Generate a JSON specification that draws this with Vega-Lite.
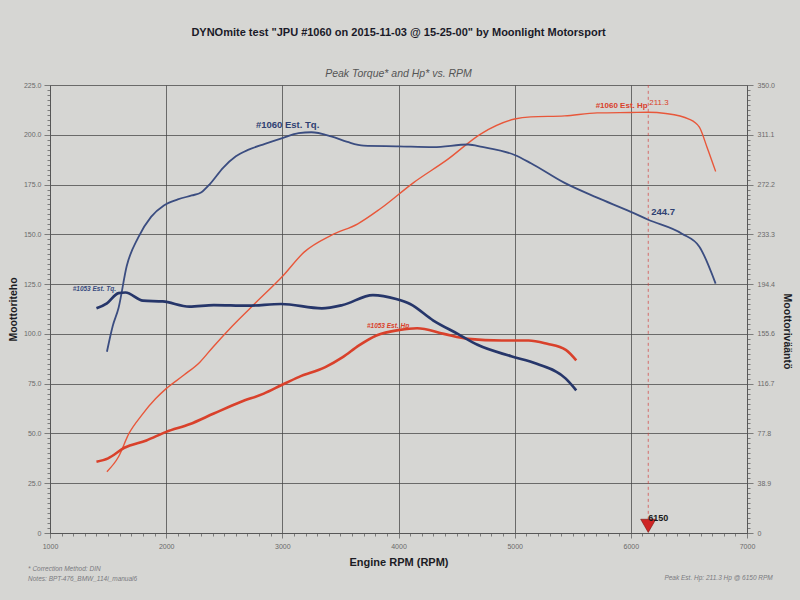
{
  "$schema": "https://vega.github.io/schema/vega-lite/v6.json",
  "width": 697,
  "height": 448,
  "autosize": "none",
  "padding": {"left": 50, "top": 85, "right": 53, "bottom": 67},
  "background": "#d6d6d3",
  "config": {
    "view": {"stroke": null},
    "font": "Liberation Sans",
    "axis": {
      "labelFont": "Liberation Sans",
      "labelFontSize": 7,
      "labelColor": "#6a6a6a",
      "domainColor": "#555555",
      "domainWidth": 0.9,
      "tickColor": "#555555",
      "tickWidth": 0.7,
      "gridColor": "#454545",
      "gridWidth": 0.75,
      "titleFont": "Liberation Sans",
      "titleFontWeight": "bold",
      "titleColor": "#1c1c24",
      "labelOverlap": false,
      "labelFlush": false,
      "labelBound": false
    }
  },
  "title": {
    "text": "DYNOmite test \"JPU #1060 on 2015-11-03 @ 15-25-00\" by Moonlight Motorsport",
    "subtitle": "Peak Torque* and Hp* vs. RPM",
    "anchor": "middle",
    "font": "Liberation Sans",
    "fontSize": 11,
    "fontWeight": "bold",
    "color": "#1a1a28",
    "subtitleFont": "Liberation Sans",
    "subtitleFontStyle": "italic",
    "subtitleFontSize": 10.5,
    "subtitleColor": "#555555",
    "subtitlePadding": 31,
    "offset": 2
  },
  "datasets": {
    "power": [
      {"series": "#1060 Est. Hp", "rpm": 1490, "hp": 30.8},
      {"series": "#1060 Est. Hp", "rpm": 1590, "hp": 38.3},
      {"series": "#1060 Est. Hp", "rpm": 1680, "hp": 50},
      {"series": "#1060 Est. Hp", "rpm": 1790, "hp": 59.2},
      {"series": "#1060 Est. Hp", "rpm": 1910, "hp": 67.5},
      {"series": "#1060 Est. Hp", "rpm": 2000, "hp": 72.5},
      {"series": "#1060 Est. Hp", "rpm": 2150, "hp": 79.2},
      {"series": "#1060 Est. Hp", "rpm": 2290, "hp": 85.8},
      {"series": "#1060 Est. Hp", "rpm": 2400, "hp": 93.2},
      {"series": "#1060 Est. Hp", "rpm": 2570, "hp": 104},
      {"series": "#1060 Est. Hp", "rpm": 2770, "hp": 115.6},
      {"series": "#1060 Est. Hp", "rpm": 3000, "hp": 128.8},
      {"series": "#1060 Est. Hp", "rpm": 3190, "hp": 141.2},
      {"series": "#1060 Est. Hp", "rpm": 3420, "hp": 149.5},
      {"series": "#1060 Est. Hp", "rpm": 3650, "hp": 155.3},
      {"series": "#1060 Est. Hp", "rpm": 3840, "hp": 162.7},
      {"series": "#1060 Est. Hp", "rpm": 4130, "hp": 176},
      {"series": "#1060 Est. Hp", "rpm": 4420, "hp": 187.5},
      {"series": "#1060 Est. Hp", "rpm": 4710, "hp": 200.5},
      {"series": "#1060 Est. Hp", "rpm": 5000, "hp": 207.9},
      {"series": "#1060 Est. Hp", "rpm": 5140, "hp": 209},
      {"series": "#1060 Est. Hp", "rpm": 5430, "hp": 209.5},
      {"series": "#1060 Est. Hp", "rpm": 5710, "hp": 211},
      {"series": "#1060 Est. Hp", "rpm": 6000, "hp": 211.2},
      {"series": "#1060 Est. Hp", "rpm": 6150, "hp": 211.3},
      {"series": "#1060 Est. Hp", "rpm": 6300, "hp": 210.7},
      {"series": "#1060 Est. Hp", "rpm": 6500, "hp": 207.9},
      {"series": "#1060 Est. Hp", "rpm": 6590, "hp": 203.8},
      {"series": "#1060 Est. Hp", "rpm": 6655, "hp": 193.9},
      {"series": "#1060 Est. Hp", "rpm": 6730, "hp": 181.6},
      {"series": "#1053 Est. Hp", "rpm": 1400, "hp": 35.8},
      {"series": "#1053 Est. Hp", "rpm": 1500, "hp": 37.5},
      {"series": "#1053 Est. Hp", "rpm": 1640, "hp": 42.8},
      {"series": "#1053 Est. Hp", "rpm": 1830, "hp": 46.5},
      {"series": "#1053 Est. Hp", "rpm": 2000, "hp": 50.8},
      {"series": "#1053 Est. Hp", "rpm": 2200, "hp": 54.6},
      {"series": "#1053 Est. Hp", "rpm": 2410, "hp": 60},
      {"series": "#1053 Est. Hp", "rpm": 2640, "hp": 65.8},
      {"series": "#1053 Est. Hp", "rpm": 2840, "hp": 70},
      {"series": "#1053 Est. Hp", "rpm": 2990, "hp": 74.2},
      {"series": "#1053 Est. Hp", "rpm": 3140, "hp": 78.3},
      {"series": "#1053 Est. Hp", "rpm": 3370, "hp": 83.3},
      {"series": "#1053 Est. Hp", "rpm": 3520, "hp": 88.3},
      {"series": "#1053 Est. Hp", "rpm": 3660, "hp": 94.2},
      {"series": "#1053 Est. Hp", "rpm": 3810, "hp": 99.2},
      {"series": "#1053 Est. Hp", "rpm": 4010, "hp": 102},
      {"series": "#1053 Est. Hp", "rpm": 4160, "hp": 102.8},
      {"series": "#1053 Est. Hp", "rpm": 4390, "hp": 100},
      {"series": "#1053 Est. Hp", "rpm": 4600, "hp": 97.5},
      {"series": "#1053 Est. Hp", "rpm": 4890, "hp": 96.7},
      {"series": "#1053 Est. Hp", "rpm": 5120, "hp": 96.7},
      {"series": "#1053 Est. Hp", "rpm": 5280, "hp": 95},
      {"series": "#1053 Est. Hp", "rpm": 5440, "hp": 92},
      {"series": "#1053 Est. Hp", "rpm": 5530, "hp": 86.7}
    ],
    "torque": [
      {"series": "#1060 Est. Tq.", "rpm": 1490, "nm": 141.6},
      {"series": "#1060 Est. Tq.", "rpm": 1540, "nm": 161.8},
      {"series": "#1060 Est. Tq.", "rpm": 1590, "nm": 175.8},
      {"series": "#1060 Est. Tq.", "rpm": 1660, "nm": 208.4},
      {"series": "#1060 Est. Tq.", "rpm": 1760, "nm": 231.0},
      {"series": "#1060 Est. Tq.", "rpm": 1870, "nm": 247.0},
      {"series": "#1060 Est. Tq.", "rpm": 1980, "nm": 255.9},
      {"series": "#1060 Est. Tq.", "rpm": 2100, "nm": 260.6},
      {"series": "#1060 Est. Tq.", "rpm": 2220, "nm": 263.7},
      {"series": "#1060 Est. Tq.", "rpm": 2300, "nm": 266.0},
      {"series": "#1060 Est. Tq.", "rpm": 2380, "nm": 273.0},
      {"series": "#1060 Est. Tq.", "rpm": 2490, "nm": 285.3},
      {"series": "#1060 Est. Tq.", "rpm": 2600, "nm": 294.3},
      {"series": "#1060 Est. Tq.", "rpm": 2710, "nm": 299.5},
      {"series": "#1060 Est. Tq.", "rpm": 2850, "nm": 304.0},
      {"series": "#1060 Est. Tq.", "rpm": 3000, "nm": 308.5},
      {"series": "#1060 Est. Tq.", "rpm": 3140, "nm": 312.4},
      {"series": "#1060 Est. Tq.", "rpm": 3250, "nm": 313.1},
      {"series": "#1060 Est. Tq.", "rpm": 3420, "nm": 309.9},
      {"series": "#1060 Est. Tq.", "rpm": 3560, "nm": 305.5},
      {"series": "#1060 Est. Tq.", "rpm": 3700, "nm": 302.6},
      {"series": "#1060 Est. Tq.", "rpm": 4000, "nm": 302.1},
      {"series": "#1060 Est. Tq.", "rpm": 4300, "nm": 301.5},
      {"series": "#1060 Est. Tq.", "rpm": 4600, "nm": 303.5},
      {"series": "#1060 Est. Tq.", "rpm": 4720, "nm": 301.6},
      {"series": "#1060 Est. Tq.", "rpm": 5000, "nm": 295.3},
      {"series": "#1060 Est. Tq.", "rpm": 5140, "nm": 288.9},
      {"series": "#1060 Est. Tq.", "rpm": 5430, "nm": 273.5},
      {"series": "#1060 Est. Tq.", "rpm": 5710, "nm": 262.0},
      {"series": "#1060 Est. Tq.", "rpm": 6000, "nm": 250.9},
      {"series": "#1060 Est. Tq.", "rpm": 6150, "nm": 244.7},
      {"series": "#1060 Est. Tq.", "rpm": 6440, "nm": 233.8},
      {"series": "#1060 Est. Tq.", "rpm": 6590, "nm": 223.7},
      {"series": "#1060 Est. Tq.", "rpm": 6730, "nm": 194.8},
      {"series": "#1053 Est. Tq.", "rpm": 1400, "nm": 175.5},
      {"series": "#1053 Est. Tq.", "rpm": 1490, "nm": 179.4},
      {"series": "#1053 Est. Tq.", "rpm": 1590, "nm": 187.4},
      {"series": "#1053 Est. Tq.", "rpm": 1650, "nm": 187.9},
      {"series": "#1053 Est. Tq.", "rpm": 1800, "nm": 181.5},
      {"series": "#1053 Est. Tq.", "rpm": 1970, "nm": 180.9},
      {"series": "#1053 Est. Tq.", "rpm": 2200, "nm": 176.9},
      {"series": "#1053 Est. Tq.", "rpm": 2410, "nm": 178.1},
      {"series": "#1053 Est. Tq.", "rpm": 2700, "nm": 177.6},
      {"series": "#1053 Est. Tq.", "rpm": 2990, "nm": 178.9},
      {"series": "#1053 Est. Tq.", "rpm": 3340, "nm": 175.5},
      {"series": "#1053 Est. Tq.", "rpm": 3520, "nm": 178.1},
      {"series": "#1053 Est. Tq.", "rpm": 3780, "nm": 185.9},
      {"series": "#1053 Est. Tq.", "rpm": 3980, "nm": 182.8},
      {"series": "#1053 Est. Tq.", "rpm": 4100, "nm": 178.9},
      {"series": "#1053 Est. Tq.", "rpm": 4300, "nm": 166.0},
      {"series": "#1053 Est. Tq.", "rpm": 4510, "nm": 155.6},
      {"series": "#1053 Est. Tq.", "rpm": 4680, "nm": 147.0},
      {"series": "#1053 Est. Tq.", "rpm": 4970, "nm": 138.1},
      {"series": "#1053 Est. Tq.", "rpm": 5190, "nm": 132.2},
      {"series": "#1053 Est. Tq.", "rpm": 5440, "nm": 120.6},
      {"series": "#1053 Est. Tq.", "rpm": 5530, "nm": 111.5}
    ],
    "notes": [
      {"kind": "tqbig", "rpm": 2747, "hp": 205, "text": "#1060 Est. Tq."},
      {"kind": "tqbig", "rpm": 6150, "hp": 161.4, "text": "244.7"},
      {"kind": "hpbig", "rpm": 5697, "hp": 214.5, "text": "#1060 Est. Hp"},
      {"kind": "hpval", "rpm": 6150, "hp": 215.8, "text": "211.3"},
      {"kind": "tqsmall", "rpm": 1195, "hp": 122.4, "text": "#1053 Est. Tq."},
      {"kind": "hpsmall", "rpm": 3728, "hp": 104, "text": "#1053 Est. Hp"},
      {"kind": "mark", "rpm": 6150, "hp": 7.5, "text": "6150"},
      {"kind": "foot", "rpm": 811, "hp": -18, "text": "* Correction Method: DIN"},
      {"kind": "foot", "rpm": 811, "hp": -23.2, "text": "Notes: BPT-476_BMW_114i_manual6"},
      {"kind": "footr", "rpm": 7222, "hp": -22.4, "text": "Peak Est. Hp: 211.3 Hp @ 6150 RPM"}
    ],
    "peak": [
      {"rpm": 6150, "hp": 3.6}
    ]
  },
  "encoding": {
    "x": {
      "field": "rpm", "type": "quantitative",
      "scale": {"domain": [1000, 7000], "nice": false, "zero": false},
      "axis": {
        "title": "Engine RPM (RPM)",
        "titleFontSize": 11,
        "titlePadding": 7,
        "values": [1000,1100,1200,1300,1400,1500,1600,1700,1800,1900,2000,2100,2200,2300,2400,2500,2600,2700,2800,2900,3000,3100,3200,3300,3400,3500,3600,3700,3800,3900,4000,4100,4200,4300,4400,4500,4600,4700,4800,4900,5000,5100,5200,5300,5400,5500,5600,5700,5800,5900,6000,6100,6200,6300,6400,6500,6600,6700,6800,6900,7000],
        "format": "d",
        "labelExpr": "datum.value % 1000 === 0 ? datum.label : ''",
        "tickSize": {"condition": {"test": "datum.value % 1000 === 0", "value": 5}, "value": 3},
        "labelPadding": 4,
        "grid": true,
        "gridOpacity": {"condition": {"test": "datum.value % 1000 === 0", "value": 1}, "value": 0}
      }
    }
  },
  "layer": [
    {
      "encoding": {
        "y": {
          "field": "hp", "type": "quantitative",
          "scale": {"domain": [0, 225], "nice": false},
          "axis": {
            "title": "Moottoriteho",
            "titleFontSize": 10.5,
            "titlePadding": 5,
            "values": [0,2.5,5,7.5,10,12.5,15,17.5,20,22.5,25,27.5,30,32.5,35,37.5,40,42.5,45,47.5,50,52.5,55,57.5,60,62.5,65,67.5,70,72.5,75,77.5,80,82.5,85,87.5,90,92.5,95,97.5,100,102.5,105,107.5,110,112.5,115,117.5,120,122.5,125,127.5,130,132.5,135,137.5,140,142.5,145,147.5,150,152.5,155,157.5,160,162.5,165,167.5,170,172.5,175,177.5,180,182.5,185,187.5,190,192.5,195,197.5,200,202.5,205,207.5,210,212.5,215,217.5,220,222.5,225],
            "labelExpr": "datum.value % 25 === 0 ? (datum.value === 0 ? '0' : format(datum.value, '.1f')) : ''",
            "tickSize": {"condition": {"test": "datum.value % 25 === 0", "value": 6}, "value": 3},
            "labelPadding": 3,
            "grid": true,
            "gridOpacity": {"condition": {"test": "datum.value % 25 === 0", "value": 1}, "value": 0}
          }
        }
      },
      "layer": [
        {
          "data": {"name": "peak"},
          "mark": {"type": "rule", "color": "#d23a3a", "strokeDash": [3, 3], "strokeWidth": 0.8, "opacity": 0.85},
          "encoding": {
            "y2": {"datum": 225}
          }
        },
        {
          "data": {"name": "power"},
          "mark": {"type": "line", "interpolate": "monotone"},
          "encoding": {
            "color": {
              "field": "series", "type": "nominal",
              "scale": {"domain": ["#1060 Est. Hp", "#1053 Est. Hp"], "range": ["#e8573a", "#d9412b"]},
              "legend": null
            },
            "strokeWidth": {
              "field": "series", "type": "nominal",
              "scale": {"domain": ["#1060 Est. Hp", "#1053 Est. Hp"], "range": [1.4, 2.6]},
              "legend": null
            }
          }
        },
        {
          "data": {"name": "peak"},
          "mark": {"type": "point", "shape": "triangle-down", "filled": true, "size": 230, "color": "#cf2525", "stroke": "#7a1a10", "strokeWidth": 0.6, "opacity": 1}
        },
        {
          "data": {"name": "notes"},
          "transform": [{"filter": "datum.kind === 'tqbig'"}],
          "mark": {"type": "text", "align": "left", "baseline": "middle", "dx": 3, "fontSize": 9.5, "fontWeight": "bold", "color": "#2f4172"},
          "encoding": {"text": {"field": "text"}}
        },
        {
          "data": {"name": "notes"},
          "transform": [{"filter": "datum.kind === 'hpbig'"}],
          "mark": {"type": "text", "align": "left", "baseline": "middle", "fontSize": 8, "fontWeight": "bold", "color": "#d9412b"},
          "encoding": {"text": {"field": "text"}}
        },
        {
          "data": {"name": "notes"},
          "transform": [{"filter": "datum.kind === 'hpval'"}],
          "mark": {"type": "text", "align": "left", "baseline": "middle", "dx": 1, "fontSize": 8, "color": "#d9412b"},
          "encoding": {"text": {"field": "text"}}
        },
        {
          "data": {"name": "notes"},
          "transform": [{"filter": "datum.kind === 'tqsmall'"}],
          "mark": {"type": "text", "align": "left", "baseline": "middle", "fontSize": 6.5, "fontWeight": "bold", "fontStyle": "italic", "color": "#3a4d80"},
          "encoding": {"text": {"field": "text"}}
        },
        {
          "data": {"name": "notes"},
          "transform": [{"filter": "datum.kind === 'hpsmall'"}],
          "mark": {"type": "text", "align": "left", "baseline": "middle", "fontSize": 6.5, "fontWeight": "bold", "fontStyle": "italic", "color": "#d9412b"},
          "encoding": {"text": {"field": "text"}}
        },
        {
          "data": {"name": "notes"},
          "transform": [{"filter": "datum.kind === 'mark'"}],
          "mark": {"type": "text", "align": "left", "baseline": "middle", "fontSize": 9, "fontWeight": "bold", "color": "#1a1a1a"},
          "encoding": {"text": {"field": "text"}}
        },
        {
          "data": {"name": "notes"},
          "transform": [{"filter": "datum.kind === 'foot'"}],
          "mark": {"type": "text", "align": "left", "baseline": "middle", "fontSize": 6.5, "fontStyle": "italic", "color": "#7a7a80"},
          "encoding": {"text": {"field": "text"}}
        },
        {
          "data": {"name": "notes"},
          "transform": [{"filter": "datum.kind === 'footr'"}],
          "mark": {"type": "text", "align": "right", "baseline": "middle", "fontSize": 6.5, "fontStyle": "italic", "color": "#7a7a80"},
          "encoding": {"text": {"field": "text"}}
        }
      ]
    },
    {
      "data": {"name": "torque"},
      "mark": {"type": "line", "interpolate": "monotone"},
      "encoding": {
        "y": {
          "field": "nm", "type": "quantitative",
          "scale": {"domain": [0, 350], "nice": false},
          "axis": {
            "orient": "right",
            "title": "Moottorivääntö",
            "titleFontSize": 10.5,
            "titlePadding": 7,
            "titleY": 246,
            "values": [0,3.89,7.78,11.67,15.56,19.44,23.33,27.22,31.11,35,38.89,42.78,46.67,50.56,54.44,58.33,62.22,66.11,70,73.89,77.78,81.67,85.56,89.44,93.33,97.22,101.11,105,108.89,112.78,116.67,120.56,124.44,128.33,132.22,136.11,140,143.89,147.78,151.67,155.56,159.44,163.33,167.22,171.11,175,178.89,182.78,186.67,190.56,194.44,198.33,202.22,206.11,210,213.89,217.78,221.67,225.56,229.44,233.33,237.22,241.11,245,248.89,252.78,256.67,260.56,264.44,268.33,272.22,276.11,280,283.89,287.78,291.67,295.56,299.44,303.33,307.22,311.11,315,318.89,322.78,326.67,330.56,334.44,338.33,342.22,346.11,350],
            "labelExpr": "abs(datum.value / 38.8889 - round(datum.value / 38.8889)) < 0.02 ? (datum.value === 0 ? '0' : format(datum.value, '.1f')) : ''",
            "tickSize": {"condition": {"test": "abs(datum.value / 38.8889 - round(datum.value / 38.8889)) < 0.02", "value": 6}, "value": 3},
            "labelPadding": 4,
            "grid": false
          }
        },
        "color": {
          "field": "series", "type": "nominal",
          "scale": {"domain": ["#1060 Est. Tq.", "#1053 Est. Tq."], "range": ["#3b4d80", "#26366a"]},
          "legend": null
        },
        "strokeWidth": {
          "field": "series", "type": "nominal",
          "scale": {"domain": ["#1060 Est. Tq.", "#1053 Est. Tq."], "range": [1.8, 2.7]},
          "legend": null
        }
      }
    }
  ],
  "resolve": {"scale": {"y": "independent", "color": "independent", "strokeWidth": "independent"}}
}
